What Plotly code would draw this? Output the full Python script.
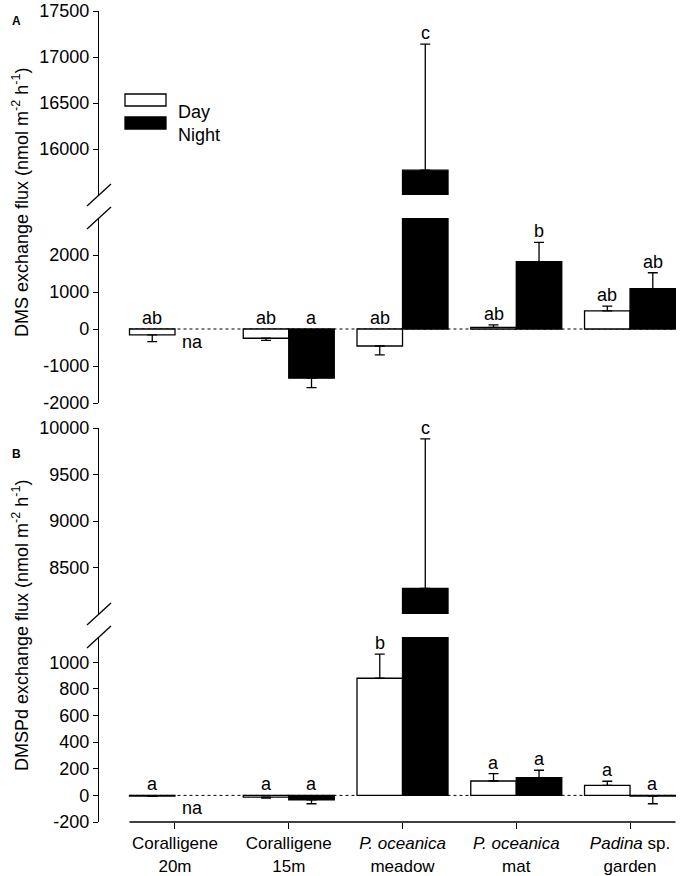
import plotly.graph_objects as go

categories = ["Coralligene<br>20m", "Coralligene<br>15m", "<i>P. oceanica</i><br>meadow",
              "<i>P. oceanica</i><br>mat", "<i>Padina</i> sp.<br>garden"]

# panel A - DMS
dms_day = [-160, -250, -460, 45, 490]
dms_day_err = [180, 60, 240, 65, 130]
dms_night = [None, -1330, 15770, 1820, 1090]
dms_night_err = [0, 255, 1370, 520, 430]
dms_day_lbl = ["ab", "ab", "ab", "ab", "ab"]
dms_night_lbl = ["na", "a", "c", "b", "ab"]

# panel B - DMSPd
dmspd_day = [-5, -13, 880, 108, 75]
dmspd_day_err = [3, 7, 182, 56, 31]
dmspd_night = [None, -33, 8275, 134, -5]
dmspd_night_err = [0, 30, 1607, 55, 58]
dmspd_day_lbl = ["a", "a", "b", "a", "a"]
dmspd_night_lbl = ["na", "a", "c", "a", "a"]

rng_a_up = [15500, 17500]
rng_a_lo = [-2000, 3000]
rng_b_up = [8000, 10000]
rng_b_lo = [-200, 1190]

ticks_a_up = [16000, 16500, 17000, 17500]
ticks_a_lo = [-2000, -1000, 0, 1000, 2000]
ticks_b_up = [8500, 9000, 9500, 10000]
ticks_b_lo = [-200, 0, 200, 400, 600, 800, 1000]

FONT = "Arial, Liberation Sans, sans-serif"
H = 876
T, B = 11, 54
PH = H - T - B
L, R = 99, 10
PW = 686 - L - R


def px_x(p):
    return (p - L) / PW


def px_y(p):
    return (H - B - p) / PH


def dom(top_px, bot_px):
    return [px_y(bot_px), px_y(top_px)]


dom_a_up = dom(11, 195)
dom_a_lo = dom(218, 403)
dom_b_up = dom(428, 614)
dom_b_lo = dom(637, 822)

fig = go.Figure()


def err(vals, errs, sign):
    out = []
    for v, e in zip(vals, errs):
        if v is None:
            out.append(0)
        elif (v >= 0) == (sign > 0):
            out.append(e)
        else:
            out.append(0)
    return out


def add_bars(day, day_err, night, night_err, yaxes):
    for ya in yaxes:
        fig.add_trace(go.Bar(
            x=categories, y=day, xaxis="x", yaxis=ya, showlegend=False,
            marker=dict(color="white", line=dict(color="black", width=1.3)),
            error_y=dict(type="data", symmetric=False, array=err(day, day_err, 1),
                         arrayminus=err(day, day_err, -1), color="black",
                         thickness=1.3, width=5)))
        fig.add_trace(go.Bar(
            x=categories, y=night, xaxis="x", yaxis=ya, showlegend=False,
            marker=dict(color="black", line=dict(color="black", width=1.3)),
            error_y=dict(type="data", symmetric=False, array=err(night, night_err, 1),
                         arrayminus=err(night, night_err, -1), color="black",
                         thickness=1.3, width=5)))


add_bars(dms_day, dms_day_err, dms_night, dms_night_err, ["y", "y2"])
add_bars(dmspd_day, dmspd_day_err, dmspd_night, dmspd_night_err, ["y3", "y4"])


def add_labels(vals, errs, lbls, offset, y_lo, y_up, lo_top):
    for i, (v, e, t) in enumerate(zip(vals, errs, lbls)):
        if v is None:
            fig.add_annotation(x=i + offset - 0.05, y=0, yref=y_lo, xref="x", text=t,
                               showarrow=False, yanchor="top", yshift=-1,
                               font=dict(size=18, color="black", family=FONT))
            continue
        ypos = v + e if v >= 0 else 0
        yr = y_up if ypos > lo_top else y_lo
        fig.add_annotation(x=i + offset, y=ypos, yref=yr, xref="x", text=t,
                           showarrow=False, yanchor="bottom", yshift=-1,
                           font=dict(size=18, color="black", family=FONT))


add_labels(dms_day, dms_day_err, dms_day_lbl, -0.2, "y2", "y", rng_a_lo[1])
add_labels(dms_night, dms_night_err, dms_night_lbl, 0.2, "y2", "y", rng_a_lo[1])
add_labels(dmspd_day, dmspd_day_err, dmspd_day_lbl, -0.2, "y4", "y3", rng_b_lo[1])
add_labels(dmspd_night, dmspd_night_err, dmspd_night_lbl, 0.2, "y4", "y3", rng_b_lo[1])

# dotted zero lines
for yr in ["y2", "y4"]:
    fig.add_shape(type="line", xref="x", yref=yr, x0=-0.4, x1=4.4, y0=0, y1=0,
                  line=dict(color="black", width=1, dash="dot"), layer="below")

# x axis line at the bottom of panel B
fig.add_shape(type="line", xref="x", yref="paper", x0=-0.4, x1=4.4, y0=0, y1=0,
              line=dict(color="black", width=1.3))

# axis break marks
for yb in [dom_a_up[0], dom_a_lo[1], dom_b_up[0], dom_b_lo[1]]:
    fig.add_shape(type="line", xref="paper", yref="paper", xsizemode="pixel",
                  ysizemode="pixel", xanchor=0, yanchor=yb, x0=-12, x1=12, y0=-11, y1=11,
                  line=dict(color="black", width=1.3))

# legend
fig.add_shape(type="rect", xref="paper", yref="paper", x0=px_x(125), x1=px_x(166),
              y0=px_y(106), y1=px_y(94), line=dict(color="black", width=1.3), fillcolor="white")
fig.add_shape(type="rect", xref="paper", yref="paper", x0=px_x(125), x1=px_x(166),
              y0=px_y(129), y1=px_y(117), line=dict(color="black", width=1.3), fillcolor="black")
fig.add_annotation(xref="paper", yref="paper", x=px_x(176), y=px_y(100), text="Day",
                   showarrow=False, xanchor="left", font=dict(size=18, color="black", family=FONT))
fig.add_annotation(xref="paper", yref="paper", x=px_x(176), y=px_y(123), text="Night",
                   showarrow=False, xanchor="left", font=dict(size=18, color="black", family=FONT))

# panel letters
fig.add_annotation(xref="paper", yref="paper", x=px_x(10), y=px_y(12), text="<b>A</b>",
                   showarrow=False, font=dict(size=12, color="black", family=FONT))
fig.add_annotation(xref="paper", yref="paper", x=px_x(10), y=px_y(454), text="<b>B</b>",
                   showarrow=False, font=dict(size=12, color="black", family=FONT))

# y titles
fig.add_annotation(xref="paper", yref="paper", x=px_x(20), y=px_y(202), textangle=-90,
                   xanchor="center", yanchor="middle",
                   text="DMS exchange flux (nmol m<sup>-2</sup> h<sup>-1</sup>)",
                   showarrow=False, font=dict(size=18, color="black", family=FONT))
fig.add_annotation(xref="paper", yref="paper", x=px_x(20), y=px_y(625), textangle=-90,
                   xanchor="center", yanchor="middle",
                   text="DMSPd exchange flux (nmol m<sup>-2</sup> h<sup>-1</sup>)",
                   showarrow=False, font=dict(size=18, color="black", family=FONT))

yax = dict(showline=True, linecolor="black", linewidth=1.3, ticks="outside", ticklen=5,
           tickcolor="black", tickwidth=1.3, showgrid=False, zeroline=False, anchor="x",
           automargin=False, tickfont=dict(size=18, color="black", family=FONT))


def labels(vals):
    return [str(v) for v in vals]


fig.update_layout(
    width=686, height=876,
    margin=dict(l=L, r=R, t=T, b=B, autoexpand=False),
    paper_bgcolor="white", plot_bgcolor="white",
    barmode="group", bargap=0.2, bargroupgap=0,
    showlegend=False,
    xaxis=dict(anchor="y4", range=[-0.668, 4.404], showline=False, showgrid=False,
               automargin=False, ticks="outside", ticklen=6, tickcolor="black", tickwidth=1.3,
               tickfont=dict(size=17, color="black", family=FONT)),
    yaxis=dict(yax, domain=dom_a_up, range=rng_a_up, tickvals=ticks_a_up,
               ticktext=labels(ticks_a_up)),
    yaxis2=dict(yax, domain=dom_a_lo, range=rng_a_lo, tickvals=ticks_a_lo,
                ticktext=labels(ticks_a_lo)),
    yaxis3=dict(yax, domain=dom_b_up, range=rng_b_up, tickvals=ticks_b_up,
                ticktext=labels(ticks_b_up)),
    yaxis4=dict(yax, domain=dom_b_lo, range=rng_b_lo, tickvals=ticks_b_lo,
                ticktext=labels(ticks_b_lo)),
)

# page body has a default 8px margin; drop it so the figure fills the window
fig.write_html("out.html", config={"displayModeBar": False},
               post_script="document.body.style.margin='0';")
